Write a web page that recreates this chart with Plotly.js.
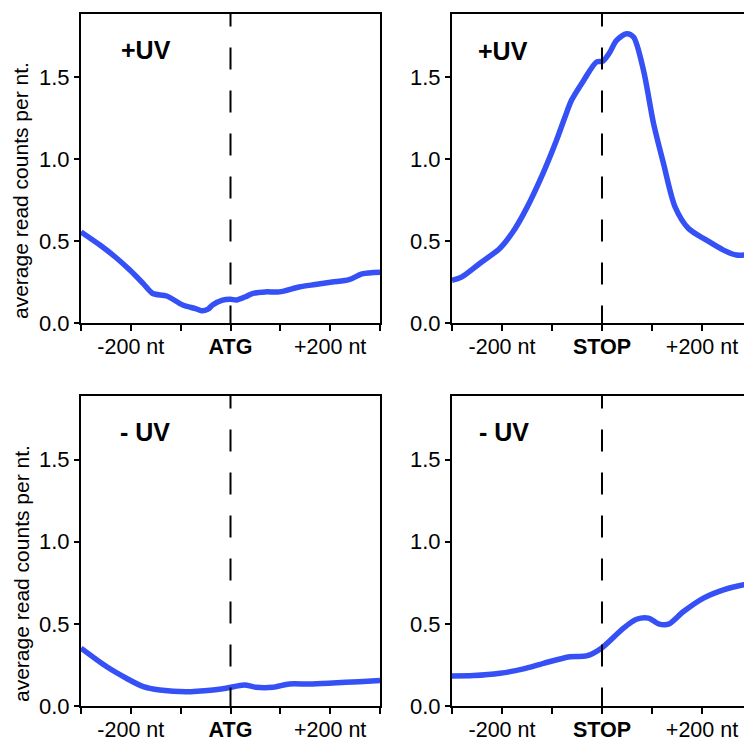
<!DOCTYPE html>
<html>
<head>
<meta charset="utf-8">
<script src="https://cdn.plot.ly/plotly-3.0.1.min.js"></script>
<style>
html, body { margin: 0; padding: 0; overflow: hidden; background: #fff; }
#chart { width: 800px; height: 740px; }
</style>
</head>
<body>
<div id="chart"></div>
<script>
// ---- data ----
var tickVals = [-300, -200, -100, 0, 100, 200, 300];
var tickTextStart = ['', '-200 nt', '', '<b>ATG</b>', '', '+200 nt', ''];
var tickTextStop = ['', '-200 nt', '', '<b>STOP</b>', '', '+200 nt', ''];
var yTickVals = [0, 0.5, 1.0, 1.5];
var yTitle = 'average read counts per nt.';
var panelLabels = ['+UV', '+UV', '- UV', '- UV'];

var uvStartX = [-300,-262,-230,-202,-175,-156,-128,-96,-70,-58,-45,-36,-16,0,12,30,44,70,98,138,170,204,238,264,300];
var uvStartY = [0.556,0.476,0.40,0.323,0.24,0.18,0.165,0.11,0.088,0.075,0.085,0.11,0.14,0.145,0.14,0.16,0.18,0.19,0.19,0.22,0.235,0.25,0.265,0.30,0.31];

var uvStopX = [-300,-281,-244,-204,-178,-151,-118,-91,-74,-61,-37,-11,2,15,29,49,63,83,103,123,146,173,209,243,269,300];
var uvStopY = [0.26,0.28,0.365,0.457,0.557,0.70,0.914,1.116,1.258,1.36,1.48,1.594,1.60,1.65,1.726,1.767,1.746,1.543,1.22,0.974,0.71,0.577,0.506,0.445,0.415,0.42];

var noUvStartX = [-300,-249,-209,-175,-142,-89,-35,-9,28,51,85,118,158,205,258,300];
var noUvStartY = [0.352,0.24,0.169,0.118,0.098,0.087,0.098,0.108,0.128,0.114,0.114,0.134,0.134,0.14,0.148,0.155];

var noUvStopX = [-300,-257,-204,-157,-117,-64,-31,-1,43,69,93,113,133,163,203,243,284,300];
var noUvStopY = [0.183,0.185,0.199,0.226,0.26,0.30,0.305,0.352,0.474,0.528,0.535,0.50,0.498,0.575,0.657,0.707,0.738,0.745];

// ---- styling ----
var W = 800, H = 740;
var FONT = 'Arial, "Liberation Sans", Helvetica, sans-serif';
var BLUE = '#3550f5';
var YMAX = 1.887;

function px2x(p) { return p / W; }
function py2y(p) { return 1 - p / H; }

function lineTrace(x, y, xa, ya) {
  return {
    x: x, y: y, xaxis: xa, yaxis: ya, type: 'scatter', mode: 'lines',
    line: { color: BLUE, width: 5.5, shape: 'spline', smoothing: 0.8 },
    hoverinfo: 'skip', showlegend: false
  };
}

var traces = [
  lineTrace(uvStartX, uvStartY, 'x', 'y'),
  lineTrace(uvStopX, uvStopY, 'x2', 'y2'),
  lineTrace(noUvStartX, noUvStartY, 'x3', 'y3'),
  lineTrace(noUvStopX, noUvStopY, 'x4', 'y4')
];

function xAxis(dom, ticktext, anchor) {
  return {
    domain: dom, anchor: anchor, range: [-300, 300],
    tickmode: 'array', tickvals: tickVals, ticktext: ticktext,
    ticks: 'outside', ticklen: 6, tickwidth: 2, tickcolor: '#000',
    ticklabelstandoff: -3,
    showline: true, linewidth: 2, linecolor: '#000', mirror: true,
    showgrid: false, zeroline: false,
    tickfont: { family: FONT, size: 21.5, color: '#000' }
  };
}
function yAxis(dom, anchor) {
  return {
    domain: dom, anchor: anchor, range: [0, YMAX],
    tickmode: 'array', tickvals: yTickVals, tickformat: '.1f',
    ticks: 'outside', ticklen: 5, tickwidth: 2, tickcolor: '#000',
    showline: true, linewidth: 2, linecolor: '#000', mirror: true,
    showgrid: false, zeroline: false,
    tickfont: { family: FONT, size: 22, color: '#000' }
  };
}

var xLeft = [px2x(81), px2x(380)];
var xRight = [px2x(452), px2x(752)];
var yTop = [py2y(323), py2y(14)];
var yBot = [py2y(706), py2y(396)];

function dashShape(xref, yref) {
  return {
    type: 'line', xref: xref, yref: yref, x0: 0, x1: 0, y0: 1.945, y1: 0,
    line: { color: '#000', width: 2, dash: '22px,21px' }, layer: 'above'
  };
}

function panelLabel(text, xref, yref, x, y) {
  return {
    text: '<b>' + text + '</b>', xref: xref, yref: yref, x: x, y: y,
    showarrow: false, xanchor: 'center', yanchor: 'middle',
    font: { family: FONT, size: 25, color: '#000' }
  };
}

function yTitleAnn(y) {
  return {
    text: yTitle, xref: 'paper', yref: 'paper', x: px2x(21), y: y,
    textangle: -90, showarrow: false, xanchor: 'center', yanchor: 'middle',
    font: { family: FONT, size: 21, color: '#000' }
  };
}

var layout = {
  width: W, height: H,
  margin: { l: 0, r: 0, t: 0, b: 0, pad: 0 },
  paper_bgcolor: '#fff', plot_bgcolor: '#fff',
  showlegend: false,
  xaxis: xAxis(xLeft, tickTextStart, 'y'),
  yaxis: yAxis(yTop, 'x'),
  xaxis2: xAxis(xRight, tickTextStop, 'y2'),
  yaxis2: yAxis(yTop, 'x2'),
  xaxis3: xAxis(xLeft, tickTextStart, 'y3'),
  yaxis3: yAxis(yBot, 'x3'),
  xaxis4: xAxis(xRight, tickTextStop, 'y4'),
  yaxis4: yAxis(yBot, 'x4'),
  shapes: [dashShape('x', 'y'), dashShape('x2', 'y2'), dashShape('x3', 'y3'), dashShape('x4', 'y4')],
  annotations: [
    panelLabel(panelLabels[0], 'x', 'y', -170, 1.67),
    panelLabel(panelLabels[1], 'x2', 'y2', -198, 1.66),
    panelLabel(panelLabels[2], 'x3', 'y3', -171, 1.665),
    panelLabel(panelLabels[3], 'x4', 'y4', -195, 1.665),
    yTitleAnn(py2y(191)),
    yTitleAnn(py2y(574))
  ]
};

Plotly.newPlot('chart', traces, layout, { staticPlot: true, displayModeBar: false });
</script>
</body>
</html>
